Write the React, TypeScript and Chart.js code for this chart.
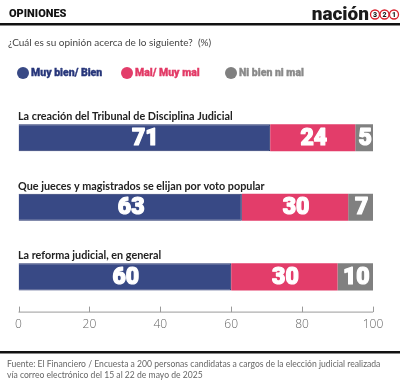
import React, { useEffect, useRef } from "react";
import { Chart, registerables } from "chart.js";

Chart.register(...registerables);

const categories = [
  "La creación del Tribunal de Disciplina Judicial",
  "Que jueces y magistrados se elijan por voto popular",
  "La reforma judicial, en general",
];
const seriesNames = ["Muy bien/ Bien", "Mal/ Muy mal", "Ni bien ni mal"];
const goodValues = [71, 63, 60];
const badValues = [24, 30, 30];
const neutralValues = [5, 7, 10];
const xTicks = [0, 20, 40, 60, 80, 100];

const header = "OPINIONES";
const subtitle = "¿Cuál es su opinión acerca de lo siguiente?  (%)";
const footLines = [
  "Fuente: El Financiero / Encuesta a 200 personas candidatas a cargos de la elección judicial realizada",
  "vía correo electrónico del 15 al 22 de mayo de 2025",
];

const BLUE = "#384985";
const PINK = "#e33d6a";
const GRAY = "#808080";
const legendTextColors = ["#27367a", "#e23a66", "#8a8a8a"];
const legendX = [23, 127, 231];

const decorPlugin = {
  id: "decor",
  afterDraw(chart: any) {
    const ctx = chart.ctx as CanvasRenderingContext2D;
    const xs = chart.scales.x;
    const area = chart.chartArea;
    ctx.save();

    // header
    ctx.fillStyle = "#111";
    ctx.font = "900 11px Roboto";
    ctx.textBaseline = "middle";
    ctx.textAlign = "left";
    ctx.fillText(header, 9, 14);

    // logo
    ctx.font = "900 19px Roboto";
    ctx.textAlign = "right";
    ctx.textBaseline = "alphabetic";
    ctx.fillStyle = "#1a1a1a";
    ctx.fillText("nación", 369, 20);
    const digits = ["3", "2", "1"];
    digits.forEach((d, i) => {
      const cx = 375 + i * 9.5;
      const cy = 14.5;
      ctx.beginPath();
      ctx.arc(cx, cy, 4.5, 0, Math.PI * 2);
      ctx.strokeStyle = "#d8202c";
      ctx.lineWidth = 1.3;
      ctx.stroke();
      ctx.fillStyle = "#1a1a1a";
      ctx.font = "900 7px Roboto";
      ctx.textAlign = "center";
      ctx.textBaseline = "middle";
      ctx.fillText(d, cx, cy + 0.5);
    });

    // rules
    ctx.fillStyle = "#111";
    ctx.fillRect(0, 23, 400, 2.5);
    ctx.fillRect(0, 351, 400, 2.5);

    // subtitle
    ctx.fillStyle = "#444";
    ctx.font = "400 10px Lato";
    ctx.textAlign = "left";
    ctx.textBaseline = "middle";
    ctx.fillText(subtitle, 8, 43);

    // legend
    chart.data.datasets.forEach((ds: any, i: number) => {
      const lx = legendX[i];
      ctx.beginPath();
      ctx.arc(lx, 73, 6, 0, Math.PI * 2);
      ctx.fillStyle = ds.backgroundColor;
      ctx.fill();
      ctx.font = "900 10.5px Roboto";
      ctx.fillStyle = legendTextColors[i];
      ctx.strokeStyle = legendTextColors[i];
      ctx.lineWidth = 0.35;
      ctx.textAlign = "left";
      ctx.textBaseline = "middle";
      ctx.fillText(ds.label, lx + 8, 73.5);
      ctx.strokeText(ds.label, lx + 8, 73.5);
    });

    // category labels above bars
    const meta0 = chart.getDatasetMeta(0);
    meta0.data.forEach((bar: any, i: number) => {
      ctx.font = "700 10.8px Lato";
      ctx.fillStyle = "#222";
      ctx.textAlign = "left";
      ctx.textBaseline = "alphabetic";
      ctx.fillText(chart.data.labels[i], xs.left - 0.5, bar.y - bar.height / 2 - 4);
    });

    // value labels
    chart.data.datasets.forEach((ds: any, di: number) => {
      const meta = chart.getDatasetMeta(di);
      meta.data.forEach((bar: any, i: number) => {
        const v = ds.data[i];
        const cx = (bar.base + bar.x) / 2 + 1;
        ctx.font = "900 23px Roboto";
        ctx.fillStyle = "#ffffff";
        ctx.strokeStyle = "#ffffff";
        ctx.lineWidth = 1.2;
        ctx.lineJoin = "round";
        ctx.textAlign = "center";
        ctx.textBaseline = "middle";
        ctx.fillText(String(v), cx, bar.y + 1);
        ctx.strokeText(String(v), cx, bar.y + 1);
      });
    });

    // x axis line and ticks (pointing up)
    const yAxis = area.bottom;
    ctx.strokeStyle = "#9a9a9a";
    ctx.lineWidth = 1;
    ctx.beginPath();
    ctx.moveTo(xs.getPixelForValue(0), yAxis + 0.5);
    ctx.lineTo(xs.getPixelForValue(100), yAxis + 0.5);
    xTicks.forEach((t) => {
      const px = Math.round(xs.getPixelForValue(t)) + 0.5;
      ctx.moveTo(px, yAxis + 0.5);
      ctx.lineTo(px, yAxis - 5);
    });
    ctx.stroke();

    // footer
    ctx.fillStyle = "#666";
    ctx.font = "400 8.6px Lato";
    ctx.textAlign = "left";
    ctx.textBaseline = "middle";
    footLines.forEach((l, i) => ctx.fillText(l, 7, 364 + i * 11));

    ctx.restore();
  },
};

export default function App() {
  const ref = useRef<HTMLCanvasElement>(null);
  useEffect(() => {
    if (!ref.current) return;
    const chart = new Chart(ref.current, {
      type: "bar",
      data: {
        labels: categories,
        datasets: [
          { label: seriesNames[0], data: goodValues, backgroundColor: BLUE, borderColor: "#25336c", borderWidth: 1 },
          { label: seriesNames[1], data: badValues, backgroundColor: PINK, borderWidth: 0 },
          { label: seriesNames[2], data: neutralValues, backgroundColor: GRAY, borderWidth: 0 },
        ],
      },
      options: {
        indexAxis: "y",
        responsive: false,
        animation: false,
        layout: { padding: { left: 18.5, right: 27, top: 103, bottom: 50 } },
        plugins: { legend: { display: false }, tooltip: { enabled: false }, title: { display: false } },
        datasets: { bar: { categoryPercentage: 1, barPercentage: 0.39 } },
        scales: {
          x: {
            stacked: true,
            min: 0,
            max: 100,
            border: { display: false },
            grid: { display: false, drawTicks: false },
            ticks: {
              stepSize: 20,
              padding: 6,
              color: "#666",
              font: { family: "'Open Sans'", size: 12, weight: "300" },
            },
          },
          y: { stacked: true, display: false },
        },
      },
      plugins: [decorPlugin],
    } as any);
    return () => chart.destroy();
  }, []);
  return (
    <div style={{ position: "fixed", left: 0, top: 0, width: 400, height: 388, background: "#fff" }}>
      <canvas ref={ref} width={400} height={388} style={{ display: "block" }} />
    </div>
  );
}
